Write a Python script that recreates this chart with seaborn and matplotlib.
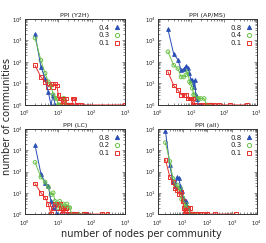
import numpy as np
import pandas as pd
import matplotlib
matplotlib.use("Agg")
import matplotlib.pyplot as plt
import seaborn as sns
from matplotlib.lines import Line2D
from matplotlib.ticker import LogLocator, NullFormatter

# PPI (Y2H)
y2h_a_x = [2, 3, 4, 5, 6, 7, 8]
y2h_a_y = [2000, 60, 17, 4, 1, 3, 1]
y2h_b_x = [2, 3, 4, 5, 6, 7, 8, 9, 10, 11, 12, 14, 15, 17, 20]
y2h_b_y = [1300, 120, 30, 12, 8, 3, 2, 2, 1, 1, 1, 2, 2, 1, 1]
y2h_c_x = [2, 3, 4, 5, 6, 7, 8, 9, 10, 11, 12, 13, 14, 15, 17, 18, 20, 22, 25, 28, 30, 35, 40, 50, 1000]
y2h_c_y = [70, 20, 12, 7, 10, 7, 10, 8, 3, 2, 2, 1, 2, 1, 2, 1, 1, 1, 1, 2, 2, 1, 1, 1, 1]

# PPI (AP/MS)
apms_a_x = [2, 3, 4, 5, 6, 7, 8, 9, 10, 11, 12, 13, 14, 15, 17, 20]
apms_a_y = [3300, 230, 130, 42, 48, 65, 55, 30, 14, 14, 7, 14, 3, 2, 1, 1]
apms_b_x = [2, 3, 4, 5, 6, 7, 8, 9, 10, 11, 12, 13, 15, 17, 20, 25, 30, 40]
apms_b_y = [300, 70, 50, 20, 20, 25, 35, 12, 10, 6, 3, 3, 2, 2, 2, 2, 1, 1]
apms_c_x = [2, 3, 4, 5, 6, 7, 8, 9, 10, 11, 12, 13, 15, 20, 25, 30, 40, 50, 70, 150, 500]
apms_c_y = [35, 8, 5, 3, 3, 3, 2, 2, 2, 1, 2, 1, 1, 1, 1, 1, 1, 1, 1, 1, 1]

# PPI (LC)
lc_a_x = [2, 3, 4, 5, 6, 7, 8, 9, 80]
lc_a_y = [1700, 80, 30, 22, 4, 2, 3, 1, 1]
lc_b_x = [2, 3, 4, 5, 6, 7, 8, 9, 10, 11, 12, 14, 16, 18, 20, 22, 25, 30, 40, 60]
lc_b_y = [270, 55, 32, 19, 8, 10, 4, 3, 2, 4, 2, 3, 2, 3, 2, 2, 1, 1, 1, 1]
lc_c_x = [2, 3, 4, 5, 6, 7, 8, 9, 10, 11, 12, 13, 14, 15, 17, 20, 25, 30, 35, 60, 70, 200, 300]
lc_c_y = [27, 10, 6, 3, 1, 2, 3, 2, 3, 3, 2, 1, 2, 1, 2, 1, 1, 1, 1, 1, 1, 1, 1]

# PPI (all)
all_a_x = [2, 3, 4, 5, 6, 7, 8, 9, 10, 11, 12, 13, 14, 15, 17, 20, 25]
all_a_y = [8000, 200, 33, 20, 57, 50, 20, 12, 6, 5, 4, 4, 3, 2, 2, 1, 1]
all_b_x = [2, 3, 4, 5, 6, 7, 8, 9, 10, 11, 12, 13, 15, 17, 20, 25, 30, 40]
all_b_y = [2300, 300, 48, 23, 23, 13, 16, 5, 6, 4, 2, 3, 2, 2, 1, 1, 1, 1]
all_c_x = [2, 3, 4, 5, 6, 7, 8, 9, 10, 11, 12, 13, 14, 15, 17, 20, 22, 25, 30, 40, 50, 70, 100, 200, 1400]
all_c_y = [360, 57, 33, 16, 13, 9, 9, 11, 4, 2, 1, 2, 1, 1, 2, 2, 1, 1, 1, 1, 1, 1, 1, 1, 1]

panels = [
    ("PPI (Y2H)", ["0.4", "0.3", "0.1"], [(y2h_a_x, y2h_a_y), (y2h_b_x, y2h_b_y), (y2h_c_x, y2h_c_y)], 1e3),
    ("PPI (AP/MS)", ["0.8", "0.4", "0.1"], [(apms_a_x, apms_a_y), (apms_b_x, apms_b_y), (apms_c_x, apms_c_y)], 1e3),
    ("PPI (LC)", ["0.8", "0.2", "0.1"], [(lc_a_x, lc_a_y), (lc_b_x, lc_b_y), (lc_c_x, lc_c_y)], 1e3),
    ("PPI (all)", ["0.8", "0.3", "0.1"], [(all_a_x, all_a_y), (all_b_x, all_b_y), (all_c_x, all_c_y)], 1e4),
]

colors = ["#2a4fb5", "#6cc24a", "#e8302c"]
markers = ["^", "o", "s"]
fills = [True, False, False]

sns.set_style("ticks")
plt.rcParams["font.family"] = ["DejaVu Sans"]

fig = plt.figure(figsize=(2.66, 2.43), dpi=100)
rects = [
    [0.094, 0.568, 0.376, 0.354],
    [0.594, 0.568, 0.372, 0.354],
    [0.094, 0.119, 0.376, 0.350],
    [0.594, 0.119, 0.372, 0.350],
]

for rect, (title, labels, series, xmax) in zip(rects, panels):
    ax = fig.add_axes(rect)
    handles = []
    for (xs, ys), col, mk, fl, lab in zip(series, colors, markers, fills, labels):
        df = pd.DataFrame({"size": xs, "count": ys})
        sns.lineplot(data=df, x="size", y="count", ax=ax, color=col, linewidth=0.7,
                     estimator=None, sort=False)
        sns.scatterplot(data=df, x="size", y="count", ax=ax, marker=mk, s=7,
                        color=col if fl else "none", edgecolor=col, linewidth=0.7)
        handles.append(Line2D([], [], ls="none", marker=mk, markersize=3, color=col,
                              markerfacecolor=col if fl else "none",
                              markeredgecolor=col, markeredgewidth=0.7, label=lab))
    ax.set_xscale("log")
    ax.set_yscale("log")
    ax.set_xlim(1, xmax)
    ax.set_ylim(1, 1e4)
    ax.set_xlabel("")
    ax.set_ylabel("")
    ax.xaxis.set_major_locator(LogLocator(base=10, numticks=10))
    ax.xaxis.set_minor_locator(LogLocator(base=10, subs=np.arange(2, 10), numticks=20))
    ax.yaxis.set_major_locator(LogLocator(base=10, numticks=10))
    ax.yaxis.set_minor_locator(LogLocator(base=10, subs=np.arange(2, 10), numticks=20))
    ax.xaxis.set_minor_formatter(NullFormatter())
    ax.yaxis.set_minor_formatter(NullFormatter())
    ax.tick_params(which="both", direction="in", top=True, right=True, labelsize=3.9,
                   width=0.4, colors="#333333", labelcolor="#222222")
    ax.tick_params(axis="x", pad=3.0)
    ax.tick_params(axis="y", pad=1.4)
    ax.tick_params(which="major", length=2.2)
    ax.tick_params(which="minor", length=1.2)
    for sp in ax.spines.values():
        sp.set_linewidth(0.7)
        sp.set_color("#333333")
    ax.set_title(title, fontsize=4.6, pad=1.5, color="#222222")
    ax.legend(handles=handles, loc="upper right", markerfirst=False, frameon=False,
              fontsize=5, handlelength=0.8, handletextpad=0.6, labelspacing=0.25,
              borderaxespad=0.4, labelcolor="#222222")

fig.text(0.028, 0.52, "number of communities", rotation=90, ha="center", va="center", fontsize=7)
fig.text(0.53, 0.035, "number of nodes per community", ha="center", va="center", fontsize=7)

fig.savefig("out.png", dpi=100)
